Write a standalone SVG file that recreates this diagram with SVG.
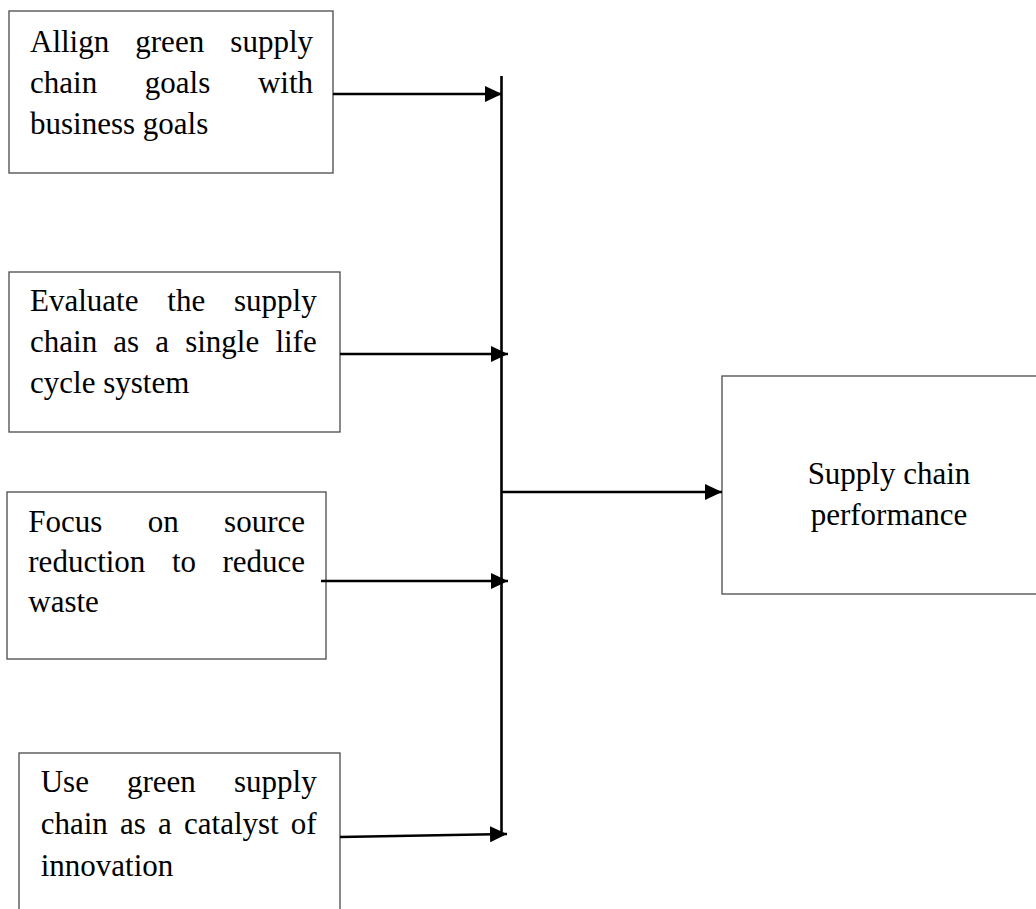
<svg xmlns="http://www.w3.org/2000/svg" width="1036" height="909" viewBox="0 0 1036 909">
<style>
.box{fill:#fff;stroke:#4a4a4a;stroke-width:1.3}
.t{font-family:"Liberation Serif","Times New Roman",serif;font-size:31px;fill:#000}
.e{text-anchor:end}
.m{text-anchor:middle}
.c{fill:none;stroke:#000;stroke-width:2.6}
</style>
<defs>
<marker id="ah" markerUnits="userSpaceOnUse" markerWidth="18" markerHeight="16" refX="17" refY="8" orient="auto">
<path d="M0,0 L17,8 L0,16 z" fill="#000"/>
</marker>
</defs>
<rect width="1036" height="909" fill="#fff"/>
<g id="n1">
<rect class="box" x="9" y="11" width="324" height="162"/>
<text class="t" y="52"><tspan x="30">Allign</tspan><tspan x="135.3">green</tspan><tspan x="313" class="e">supply</tspan></text>
<text class="t" y="93"><tspan x="30">chain</tspan><tspan x="144.8">goals</tspan><tspan x="313" class="e">with</tspan></text>
<text class="t" x="30" y="134">business goals</text>
</g>
<g id="n2">
<rect class="box" x="9" y="272" width="331" height="160"/>
<text class="t" y="311"><tspan x="30">Evaluate</tspan><tspan x="167.3">the</tspan><tspan x="316.7" class="e">supply</tspan></text>
<text class="t" y="352"><tspan x="30">chain</tspan><tspan x="113.3">as</tspan><tspan x="155.2">a</tspan><tspan x="185.2">single</tspan><tspan x="316.7" class="e">life</tspan></text>
<text class="t" x="30" y="393">cycle system</text>
</g>
<g id="n3">
<rect class="box" x="7" y="492" width="319" height="167"/>
<text class="t" y="531.5"><tspan x="28.3">Focus</tspan><tspan x="147.8">on</tspan><tspan x="305" class="e">source</tspan></text>
<text class="t" y="571.5"><tspan x="28.3">reduction</tspan><tspan x="171.9">to</tspan><tspan x="305" class="e">reduce</tspan></text>
<text class="t" x="28.3" y="611.5">waste</text>
</g>
<g id="n4">
<rect class="box" x="19" y="753" width="321" height="170"/>
<text class="t" y="792"><tspan x="40.7">Use</tspan><tspan x="127">green</tspan><tspan x="316.7" class="e">supply</tspan></text>
<text class="t" y="834"><tspan x="40.7">chain</tspan><tspan x="120">as</tspan><tspan x="158">a</tspan><tspan x="184">catalyst</tspan><tspan x="316.7" class="e">of</tspan></text>
<text class="t" x="40.7" y="876">innovation</text>
</g>
<g id="n5">
<rect class="box" x="722" y="376" width="330" height="218"/>
<text class="t m" x="889" y="484">Supply chain</text>
<text class="t m" x="889" y="525">performance</text>
</g>
<g id="connectors">
<line class="c" x1="501.5" y1="76" x2="501.5" y2="836"/>
<line class="c" x1="333" y1="94" x2="502" y2="94" marker-end="url(#ah)"/>
<line class="c" x1="340" y1="354" x2="508" y2="354" marker-end="url(#ah)"/>
<line class="c" x1="321" y1="581" x2="508" y2="581" marker-end="url(#ah)"/>
<line class="c" x1="340" y1="837" x2="507" y2="834" marker-end="url(#ah)"/>
<line class="c" x1="502" y1="492" x2="722" y2="492" marker-end="url(#ah)"/>
</g>
</svg>
